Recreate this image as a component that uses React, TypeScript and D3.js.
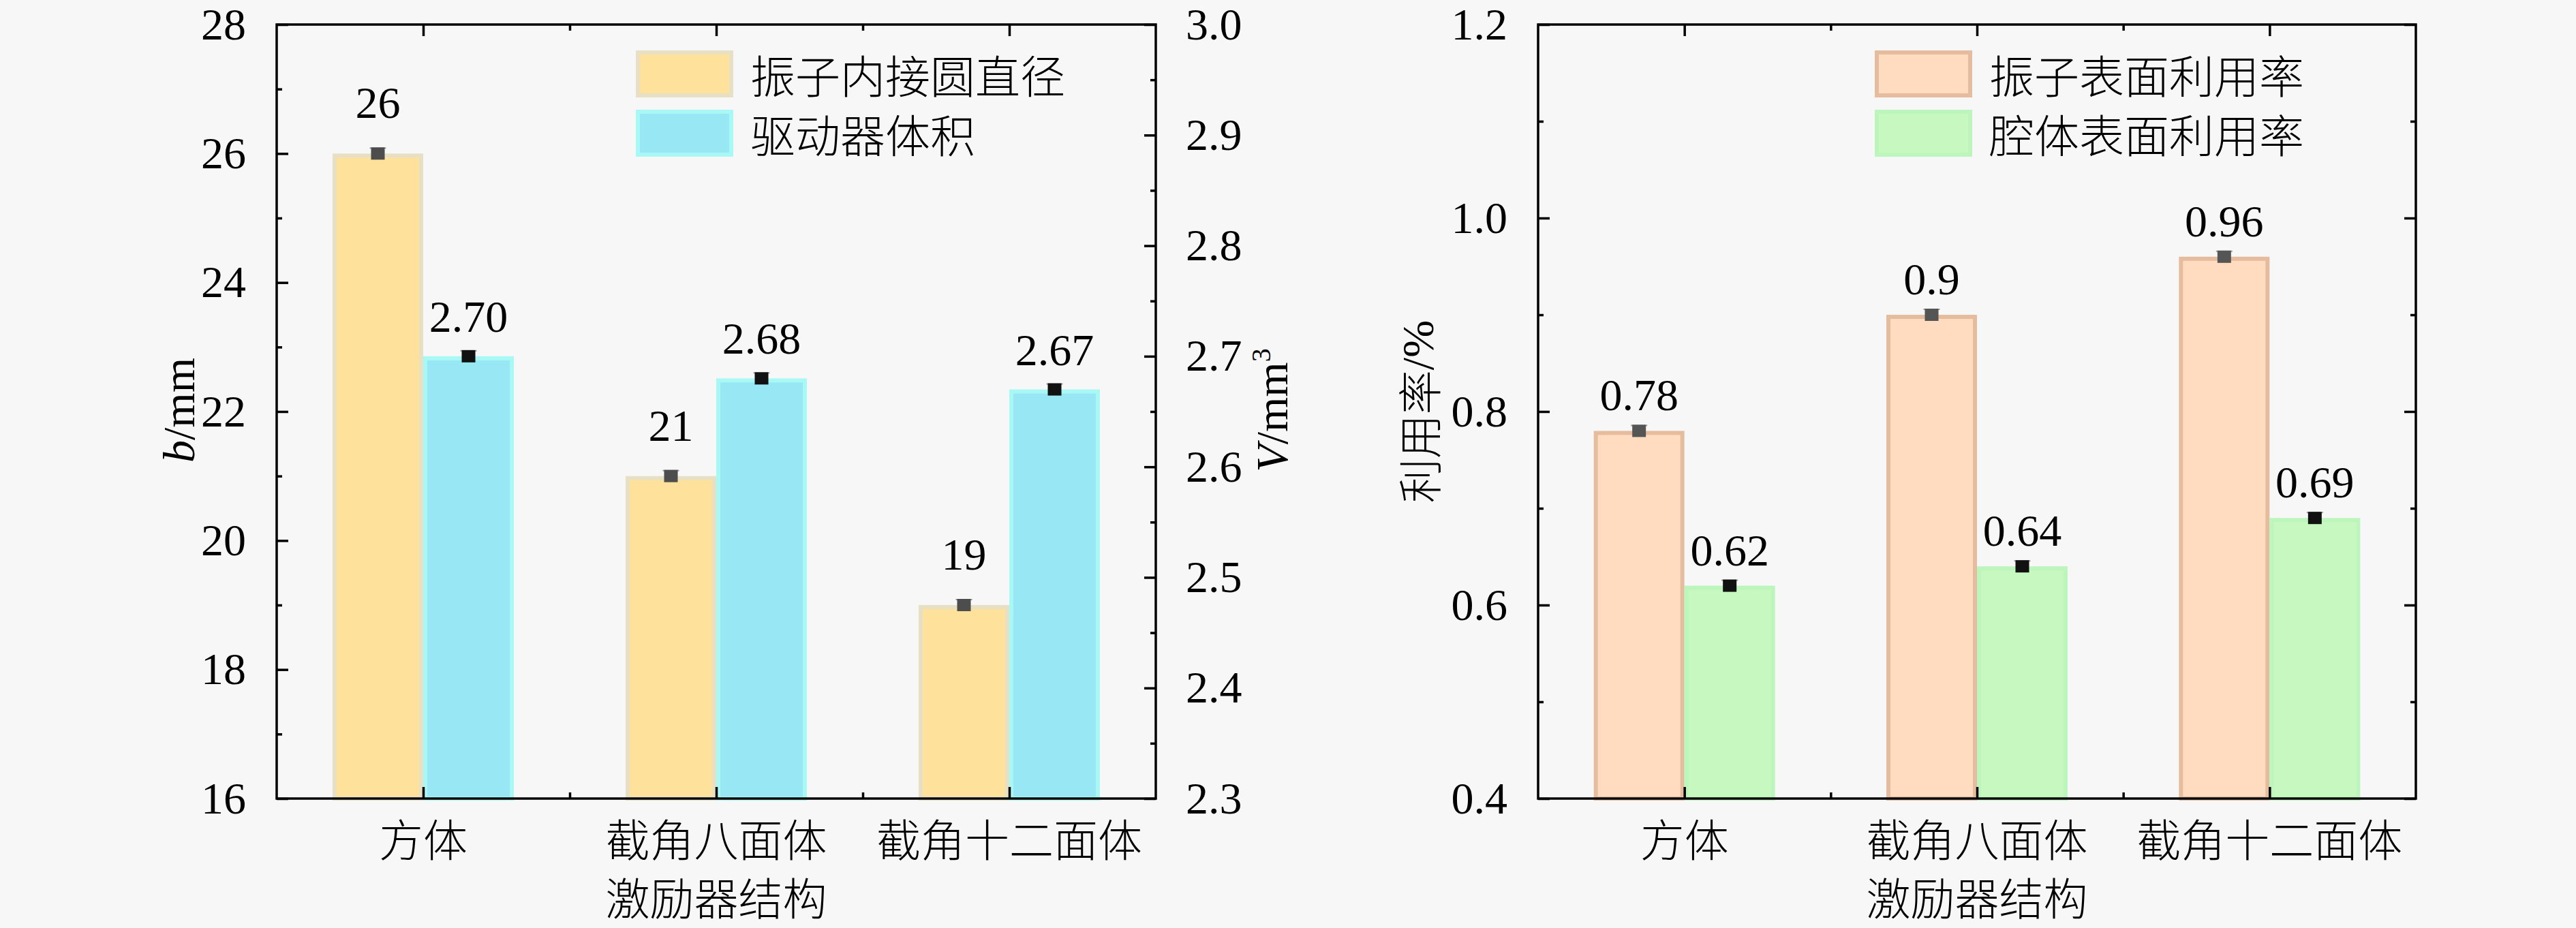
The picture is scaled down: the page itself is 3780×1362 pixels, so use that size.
import React, { useRef, useEffect } from 'react'
import * as d3 from 'd3'

// chart values
const CATEGORIES = ['方体', '截角八面体', '截角十二面体']
const DIAMETER = [26, 21, 19]          // 振子内接圆直径, b/mm
const VOLUME = [2.7, 2.68, 2.67]       // 驱动器体积, V/mm³
const VIB_UTIL = [0.78, 0.9, 0.96]     // 振子表面利用率
const CAV_UTIL = [0.62, 0.64, 0.69]    // 腔体表面利用率

const B_TICKS = [16, 18, 20, 22, 24, 26, 28]
const V_TICKS = [2.3, 2.4, 2.5, 2.6, 2.7, 2.8, 2.9, 3.0]
const U_TICKS = [0.4, 0.6, 0.8, 1.0, 1.2]

const W = 3780
const H = 1362
const TOP = 36
const BOTTOM = 1172
const BAR_W = 133

const LATIN = "'Liberation Serif', 'DejaVu Serif', serif"
const CJK = "'Noto Sans CJK SC', sans-serif"
const NUM_SIZE = 66
const CJK_SIZE = 65

type Series = {
  key: string
  name: string
  values: number[]
  fmt: (v: number) => string
  fill: string
  stroke: string
  marker: string
  lift: number
  axis: 'left' | 'right'
}

function drawPanel(
  svg: d3.Selection<SVGSVGElement, unknown, null, undefined>,
  x0: number,
  x1: number,
  yLeft: d3.ScaleLinear<number, number>,
  leftTicks: number[],
  leftMinor: number[],
  leftFmt: (v: number) => string,
  yRight: d3.ScaleLinear<number, number> | null,
  rightTicks: number[],
  rightMinor: number[],
  rightFmt: (v: number) => string,
  series: Series[],
  legendX: number
) {
  const g = svg.append('g')
  const x = d3.scaleBand<string>().domain(CATEGORIES).range([x0, x1]).padding(0)
  const sub = d3.scaleBand<string>().domain(series.map(s => s.key)).range([0, BAR_W * 2])
  const yR = yRight ?? yLeft

  // bars
  series.forEach(s => {
    const ys = s.axis === 'left' ? yLeft : yR
    const base = ys.domain()[0]
    CATEGORIES.forEach((c, i) => {
      const bx = x(c)! + (x.bandwidth() - BAR_W * 2) / 2 + sub(s.key)!
      g.append('rect')
        .attr('x', bx + 3)
        .attr('y', ys(s.values[i]) + 3)
        .attr('width', sub.bandwidth() - 6)
        .attr('height', ys(base) - ys(s.values[i]) - 3)
        .attr('fill', s.fill)
        .attr('stroke', s.stroke)
        .attr('stroke-width', 6)
    })
  })

  // markers + value labels
  series.forEach(s => {
    const ys = s.axis === 'left' ? yLeft : yR
    CATEGORIES.forEach((c, i) => {
      const cx = x(c)! + (x.bandwidth() - BAR_W * 2) / 2 + sub(s.key)! + sub.bandwidth() / 2
      const cy = ys(s.values[i])
      g.append('line')
        .attr('x1', cx - 12).attr('x2', cx + 12)
        .attr('y1', cy - 8).attr('y2', cy - 8)
        .attr('stroke', '#9a9a9a').attr('stroke-width', 2)
      g.append('rect')
        .attr('x', cx - 10).attr('y', cy - 9)
        .attr('width', 20).attr('height', 18)
        .attr('fill', s.marker)
      g.append('text')
        .attr('x', cx)
        .attr('y', cy - s.lift)
        .attr('text-anchor', 'middle')
        .attr('font-family', LATIN)
        .attr('font-size', NUM_SIZE)
        .attr('fill', '#000')
        .text(s.fmt(s.values[i]))
    })
  })

  const styleAxis = (sel: d3.Selection<SVGGElement, unknown, null, undefined>) => {
    sel.attr('font-family', LATIN).attr('font-size', NUM_SIZE)
    sel.select('.domain').remove()
    sel.selectAll('line').attr('stroke', '#000').attr('stroke-width', 3.5)
    sel.selectAll('text').attr('fill', '#000')
  }

  // left axis
  g.append('g').attr('transform', `translate(${x0},0)`)
    .call(d3.axisLeft(yLeft).tickValues(leftTicks).tickSize(-17).tickPadding(45).tickFormat(d => leftFmt(+d)))
    .call(styleAxis)
  g.append('g').attr('transform', `translate(${x0},0)`)
    .call(d3.axisLeft(yLeft).tickValues(leftMinor).tickSize(-8).tickFormat(() => ''))
    .call(styleAxis)

  // right axis
  g.append('g').attr('transform', `translate(${x1},0)`)
    .call(d3.axisRight(yR).tickValues(rightTicks).tickSize(-17).tickPadding(44).tickFormat(d => rightFmt(+d)))
    .call(styleAxis)
  g.append('g').attr('transform', `translate(${x1},0)`)
    .call(d3.axisRight(yR).tickValues(rightMinor).tickSize(-8).tickFormat(() => ''))
    .call(styleAxis)

  // bottom / top axes: major at category centres, minor at boundaries
  const centers = CATEGORIES.map(c => x(c)! + x.bandwidth() / 2)
  const bounds = CATEGORIES.slice(1).map(c => x(c)!)
  const xl = d3.scaleLinear().domain([x0, x1]).range([x0, x1])
  g.append('g').attr('transform', `translate(0,${BOTTOM})`)
    .call(d3.axisBottom(xl).tickValues(centers).tickSize(-17).tickFormat(() => ''))
    .call(styleAxis)
  g.append('g').attr('transform', `translate(0,${BOTTOM})`)
    .call(d3.axisBottom(xl).tickValues(bounds).tickSize(-9).tickFormat(() => ''))
    .call(styleAxis)
  g.append('g').attr('transform', `translate(0,${TOP})`)
    .call(d3.axisTop(xl).tickValues(centers).tickSize(-17).tickFormat(() => ''))
    .call(styleAxis)
  g.append('g').attr('transform', `translate(0,${TOP})`)
    .call(d3.axisTop(xl).tickValues(bounds).tickSize(-9).tickFormat(() => ''))
    .call(styleAxis)

  // frame
  g.append('rect')
    .attr('x', x0).attr('y', TOP)
    .attr('width', x1 - x0).attr('height', BOTTOM - TOP)
    .attr('fill', 'none').attr('stroke', '#000').attr('stroke-width', 3.5)

  // category labels
  CATEGORIES.forEach((c, i) => {
    g.append('text')
      .attr('x', centers[i]).attr('y', 1257)
      .attr('text-anchor', 'middle')
      .attr('font-family', CJK).attr('font-size', CJK_SIZE).attr('font-weight', 300)
      .attr('fill', '#000')
      .text(c)
  })
  g.append('text')
    .attr('x', (x0 + x1) / 2).attr('y', 1343)
    .attr('text-anchor', 'middle')
    .attr('font-family', CJK).attr('font-size', CJK_SIZE).attr('font-weight', 300)
    .attr('fill', '#000')
    .text('激励器结构')

  // legend
  series.forEach((s, i) => {
    const ly = 74 + i * 87
    g.append('rect')
      .attr('x', legendX + 3).attr('y', ly + 3)
      .attr('width', 137).attr('height', 63)
      .attr('fill', s.fill).attr('stroke', s.stroke).attr('stroke-width', 6)
    g.append('text')
      .attr('x', legendX + 168).attr('y', ly + 34)
      .attr('dominant-baseline', 'central')
      .attr('font-family', CJK).attr('font-size', CJK_SIZE + 1).attr('font-weight', 300)
      .attr('fill', '#000')
      .text(s.name)
  })
}

export default function App() {
  const svgRef = useRef<SVGSVGElement>(null)

  useEffect(() => {
    if (!svgRef.current) return
    document.body.style.margin = '0'
    const svg = d3.select(svgRef.current)
    svg.selectAll('*').remove()

    svg.append('rect').attr('width', W).attr('height', H).attr('fill', '#f7f7f7')

    // left panel
    const yB = d3.scaleLinear().domain([16, 28]).range([BOTTOM, TOP])
    const yV = d3.scaleLinear().domain([2.3, 3.0]).range([BOTTOM, TOP])
    drawPanel(
      svg, 406, 1696,
      yB, B_TICKS, d3.range(17, 28, 2), d => d3.format('d')(d),
      yV, V_TICKS, d3.range(2.35, 3.0, 0.1), d => d3.format('.1f')(d),
      [
        { key: 'b', name: '振子内接圆直径', values: DIAMETER, fmt: d => String(d),
          fill: '#fee29c', stroke: '#e8e0c4', marker: '#4d4d4d', lift: 52, axis: 'left' },
        { key: 'v', name: '驱动器体积', values: VOLUME, fmt: d => d.toFixed(2),
          fill: '#97e8f4', stroke: '#a8f8f6', marker: '#111', lift: 36, axis: 'right' },
      ],
      933
    )

    // right panel
    const yU = d3.scaleLinear().domain([0.4, 1.2]).range([BOTTOM, TOP])
    drawPanel(
      svg, 2257, 3545,
      yU, U_TICKS, d3.range(0.5, 1.2, 0.2), d => d3.format('.1f')(d),
      null, U_TICKS, d3.range(0.5, 1.2, 0.2), () => '',
      [
        { key: 'vib', name: '振子表面利用率', values: VIB_UTIL, fmt: d => String(d),
          fill: '#ffdcc0', stroke: '#e6bc9f', marker: '#555', lift: 30, axis: 'left' },
        { key: 'cav', name: '腔体表面利用率', values: CAV_UTIL, fmt: d => String(d),
          fill: '#c6f8c0', stroke: '#bdf6bc', marker: '#111', lift: 30, axis: 'left' },
      ],
      2751
    )

    // axis titles
    const title = (cx: number, cy: number) =>
      svg.append('text')
        .attr('transform', `translate(${cx},${cy}) rotate(-90)`)
        .attr('text-anchor', 'middle')
        .attr('dominant-baseline', 'central')
        .attr('fill', '#000')
        .attr('font-family', LATIN)
        .attr('font-size', NUM_SIZE)

    const tb = title(262, 602)
    tb.append('tspan').attr('font-style', 'italic').text('b')
    tb.append('tspan').text('/mm')

    const tv = title(1866, 602)
    tv.append('tspan').attr('font-style', 'italic').text('V')
    tv.append('tspan').text('/mm')
    tv.append('tspan').attr('dy', '-0.4em').attr('font-size', 40).text('3')

    const tu = title(2080, 604)
    tu.append('tspan').attr('font-family', CJK).attr('font-size', CJK_SIZE).attr('font-weight', 300).text('利用率')
    tu.append('tspan').text('/%')
  }, [])

  return (
    <svg
      ref={svgRef}
      width={W}
      height={H}
      style={{ position: 'absolute', left: 0, top: 0, display: 'block', background: '#f7f7f7' }}
    />
  )
}
